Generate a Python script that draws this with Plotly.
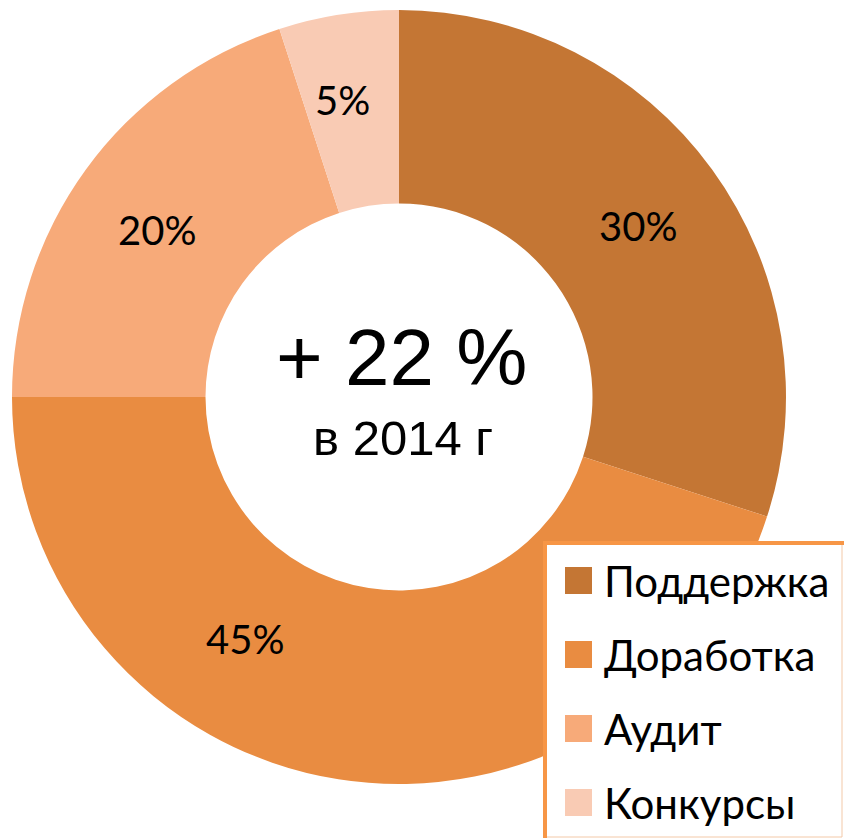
import math
import plotly.graph_objects as go

# ---- data ----
categories = ["Поддержка", "Доработка", "Аудит", "Конкурсы"]
values = [30, 45, 20, 5]
colors = ["#C47634", "#E98C41", "#F7AA79", "#F9CBB4"]
center_title = "+ 22 %"
center_sub = "в 2014 г"

# ---- label placement style (angular nudge in degrees and radius, per slice) ----
label_nudge_deg = [1, 23, -2, -2]
label_radius_px = [292, 290, 292, 298]
label_text_dy = -4  # vertical optical offset of the label font

W, H = 844, 838
CX, CY, R = 399, 397, 387


def px(x):
    return x / W


def py(y):
    return 1 - y / H


fig = go.Figure()
fig.add_trace(go.Pie(
    labels=categories,
    values=values,
    sort=False,
    direction="clockwise",
    rotation=0,
    hole=0.5,
    marker=dict(colors=colors, line=dict(width=0)),
    textinfo="none",
    domain=dict(x=[px(CX - R), px(CX + R)], y=[py(CY + R), py(CY - R)]),
    showlegend=False,
    hoverinfo="label+percent",
))

shapes = []
annotations = []

# percentage labels derived from the data
total = sum(values)
cum = 0
for v, nudge, rad in zip(values, label_nudge_deg, label_radius_px):
    mid = (cum + v / 2) / total * 360 + nudge
    cum += v
    a = math.radians(mid)
    lx = CX + rad * math.sin(a)
    ly = CY - rad * math.cos(a) + label_text_dy
    annotations.append(dict(x=px(lx), y=py(ly), xref="paper", yref="paper",
                            text=f"{round(v / total * 100)}%", showarrow=False,
                            font=dict(family="Lato", size=40, color="black"),
                            xanchor="center", yanchor="middle"))

# centre text
annotations.append(dict(x=px(401), y=py(357), xref="paper", yref="paper",
                        text=center_title, showarrow=False,
                        font=dict(family="Liberation Sans", size=80, color="black"),
                        xanchor="center", yanchor="middle"))
annotations.append(dict(x=px(403), y=py(438), xref="paper", yref="paper",
                        text=center_sub, showarrow=False,
                        font=dict(family="Liberation Sans", size=49, color="black"),
                        xanchor="center", yanchor="middle"))

# legend box
border = "#F79646"
shapes.append(dict(type="rect", xref="paper", yref="paper", layer="above",
                   x0=px(545), x1=px(842), y0=py(837), y1=py(543),
                   fillcolor="white", line=dict(width=0)))
shapes.append(dict(type="line", xref="paper", yref="paper", layer="above",
                   x0=px(543), x1=px(844), y0=py(543), y1=py(543),
                   line=dict(color=border, width=4)))
shapes.append(dict(type="line", xref="paper", yref="paper", layer="above",
                   x0=px(545), x1=px(545), y0=py(541), y1=py(838),
                   line=dict(color=border, width=4)))
shapes.append(dict(type="line", xref="paper", yref="paper", layer="above",
                   x0=px(842), x1=px(842), y0=py(545), y1=py(837),
                   line=dict(color="#F3C9A8", width=1)))
shapes.append(dict(type="line", xref="paper", yref="paper", layer="above",
                   x0=px(547), x1=px(842), y0=py(837), y1=py(837),
                   line=dict(color="#F3C9A8", width=1)))

row0, row_step = 580.5, 74
for i, (cat, col) in enumerate(zip(categories, colors)):
    cy = row0 + i * row_step
    shapes.append(dict(type="rect", xref="paper", yref="paper", layer="above",
                       x0=px(565), x1=px(592), y0=py(cy + 13.5), y1=py(cy - 13.5),
                       fillcolor=col, line=dict(width=0)))
    annotations.append(dict(x=px(602), y=py(cy), xref="paper", yref="paper",
                            text=cat, showarrow=False,
                            font=dict(family="Lato", size=42, color="black"),
                            xanchor="left", yanchor="middle"))

fig.update_layout(
    width=W, height=H,
    margin=dict(l=0, r=0, t=0, b=0),
    paper_bgcolor="white",
    plot_bgcolor="white",
    shapes=shapes,
    annotations=annotations,
)

fig.write_html("out.html")
